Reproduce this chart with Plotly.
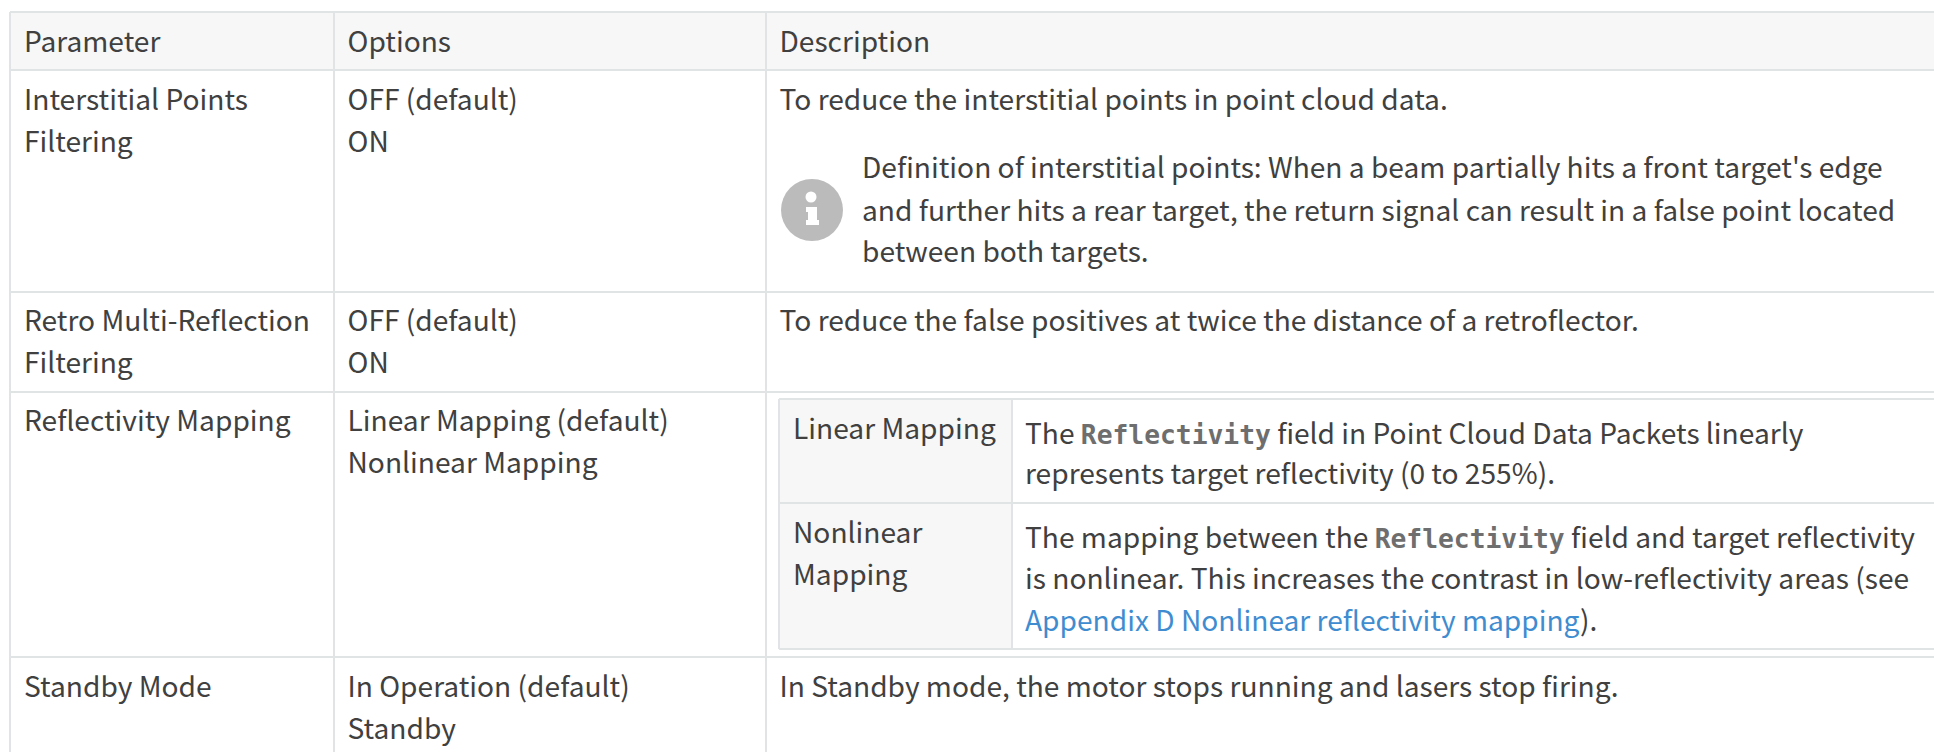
import plotly.graph_objects as go

FONT = "Noto Sans CJK SC"
MONO = "DejaVu Sans Mono"
TXT = "#404040"
LINE = "#e1e4e5"
HEAD = "#f7f7f7"
SIZE = 28.15

headers = ["Parameter", "Options", "Description"]
parameters = [["Interstitial Points", "Filtering"], ["Retro Multi-Reflection", "Filtering"],
              ["Reflectivity Mapping"], ["Standby Mode"]]
options = [["OFF (default)", "ON"], ["OFF (default)", "ON"],
           ["Linear Mapping (default)", "Nonlinear Mapping"], ["In Operation (default)", "Standby"]]
descriptions = ["To reduce the interstitial points in point cloud data.",
                "To reduce the false positives at twice the distance of a retroflector.",
                "In Standby mode, the motor stops running and lasers stop firing."]
note_lines = ["Definition of interstitial points: When a beam partially hits a front target's edge",
              "and further hits a rear target, the return signal can result in a false point located",
              "between both targets."]
nested_labels = [["Linear Mapping"], ["Nonlinear", "Mapping"]]
code = '<span style="font-family:%s;font-size:26.3px;color:#6e6e6e"><b>Reflectivity</b></span>' % MONO
link = '<span style="color:#3f8dd0">Appendix D Nonlinear reflectivity mapping</span>'
nested_text = [["The " + code + " field in Point Cloud Data Packets linearly",
                "represents target reflectivity (0 to 255%)."],
               ["The mapping between the " + code + " field and target reflectivity",
                "is nonlinear. This increases the contrast in low-reflectivity areas (see",
                link + ")."]]

# geometry of the table in page pixels
W, H = 1934, 752
col_x = [10, 334, 766]
row_y = [12, 70, 292, 392, 657]
nest_x = [779, 1012]
nest_y = [399, 503, 649]
text_x = [24, 347.5, 779.5]
note_x = 862
nest_text_x = [793, 1025]

fig = go.Figure()


def band(x0, x1, y0, y1, color, layer="below"):
    fig.add_shape(type="rect", x0=x0, x1=x1, y0=y0, y1=y1, fillcolor=color, line_width=0, layer=layer)


def segs(pairs, width):
    xs, ys = [], []
    for (a, b, c, d) in pairs:
        xs += [a, b, None]
        ys += [c, d, None]
    fig.add_trace(go.Scatter(x=xs, y=ys, mode="lines", line=dict(color=LINE, width=width), hoverinfo="skip"))


def texts(items, color=TXT, size=SIZE, font=FONT):
    fig.add_trace(go.Scatter(x=[i[0] for i in items], y=[i[1] for i in items], text=[i[2] for i in items],
                             mode="text", textposition="middle right",
                             textfont=dict(family=font, size=size, color=color), hoverinfo="skip"))


band(col_x[0], W, row_y[0], row_y[1], HEAD)
band(nest_x[0], nest_x[1], nest_y[0], nest_y[2], HEAD)

lines = [(x, x, row_y[0], H) for x in col_x]
lines += [(col_x[0], W, y, y) for y in row_y]
segs(lines, 2)
inner = [(x, x, nest_y[0], nest_y[2]) for x in nest_x] + [(nest_x[0], W, y, y) for y in nest_y]
segs(inner, 2)

header_y = 44.5
row_line_y = [[103, 145], [324, 366], [424, 466], [690, 732]]
desc_y = [103, 324, 690]
note_y = [171, 214, 255]
nest_label_y = [[432], [536, 578]]
nest_text_y = [[436.5, 477], [540.5, 582, 624]]

items = [(x, header_y, h) for x, h in zip(text_x, headers)]
for ys, p, o in zip(row_line_y, parameters, options):
    items += [(text_x[0], y, t) for y, t in zip(ys, p)]
    items += [(text_x[1], y, t) for y, t in zip(ys, o)]
items += [(text_x[2], y, t) for y, t in zip(desc_y, descriptions)]
items += [(note_x, y, t) for y, t in zip(note_y, note_lines)]
for ys, ls in zip(nest_label_y, nested_labels):
    items += [(nest_text_x[0], y, t) for y, t in zip(ys, ls)]
for ys, ls in zip(nest_text_y, nested_text):
    items += [(nest_text_x[1], y, t) for y, t in zip(ys, ls)]
texts(items)

# info icon
fig.add_trace(go.Scatter(x=[812, 811], y=[210, 197], mode="markers",
                         marker=dict(size=[62, 11], color=["#bbbbbb", "white"], opacity=1, line_width=0), hoverinfo="skip"))
band(806, 817, 207, 212, "white", "above")
band(808, 817, 207, 225, "white", "above")
band(806, 819, 220, 225, "white", "above")

fig.update_layout(width=W, height=H, margin=dict(l=0, r=0, t=0, b=0), showlegend=False,
                  paper_bgcolor="white", plot_bgcolor="white",
                  xaxis=dict(range=[0, W], visible=False, fixedrange=True),
                  yaxis=dict(range=[H, 0], visible=False, fixedrange=True))
fig.write_html("out.html", config=dict(displayModeBar=False),
               post_script="document.body.style.margin='0';document.body.style.overflow='hidden';")
